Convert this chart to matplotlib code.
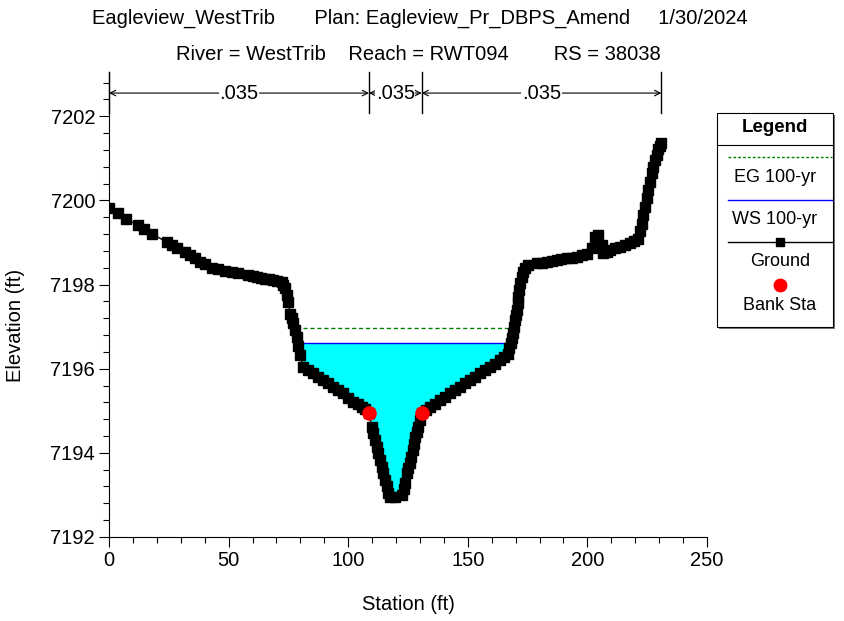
import matplotlib
matplotlib.use("Agg")
from matplotlib import pyplot as plt
from matplotlib.patches import Rectangle
from matplotlib.lines import Line2D
import numpy as np

plt.rcParams['font.family'] = ['Liberation Sans', 'DejaVu Sans']

# ground profile
station = [0, 3.9, 7.0, 12.3, 14.8, 17.8, 24.1, 26.2, 28.3, 31.8, 33.9, 36.0, 38.0, 40.1,
           42.9, 45.7, 48.5, 51.3, 54.1, 58.2, 60.0, 61.7, 63.5, 65.2, 67.0, 68.7, 70.1,
           72.2, 72.9, 73.6, 74.3, 75.0, 75.7, 76.3, 77.0, 77.7, 78.5, 79.1, 79.8, 81.2,
           83.3, 85.4, 87.5, 89.6, 91.7, 93.8, 95.9, 97.9, 100.0, 102.1, 104.0, 105.6,
           107.2, 108.7, 109.8, 110.5, 111.2, 111.9, 112.6, 113.3, 114.0, 114.7, 115.4,
           116.1, 116.8, 117.5, 119.6, 122.4, 123.2, 123.7, 124.5, 125.1, 125.8, 126.3,
           126.9, 127.4, 127.9, 128.6, 129.3, 130.0, 130.7, 132.4, 134.2, 136.3, 138.4,
           140.5, 142.6, 144.6, 146.7, 148.8, 150.9, 153.0, 155.1, 157.2, 159.3, 161.4,
           163.5, 165.2, 166.9, 167.4, 167.9, 168.3, 168.8, 169.3, 169.7, 170.0, 170.4,
           170.8, 171.1, 171.5, 171.8, 172.5, 173.2, 173.9, 175.3, 178.8, 181.0, 183.0,
           185.0, 187.2, 189.0, 191.3, 193.4, 195.5, 197.6, 199.7, 201.8, 203.2, 204.6,
           206.0, 206.7, 208.0, 209.4, 211.5, 213.6, 215.7, 217.8, 219.5, 221.3, 222.0,
           222.7, 223.4, 224.1, 224.8, 225.5, 226.2, 226.9, 227.6, 228.3, 229.0, 229.7,
           230.3, 230.9]
elev = [7199.81, 7199.69, 7199.55, 7199.41, 7199.31, 7199.21, 7199.01, 7198.94, 7198.86,
        7198.78, 7198.70, 7198.62, 7198.54, 7198.49, 7198.40, 7198.36, 7198.33, 7198.30,
        7198.28, 7198.22, 7198.20, 7198.18, 7198.16, 7198.14, 7198.12, 7198.10, 7198.09,
        7198.06, 7198.00, 7197.92, 7197.75, 7197.58, 7197.31, 7197.20, 7197.08, 7196.92,
        7196.76, 7196.55, 7196.32, 7196.05, 7195.97, 7195.89, 7195.81, 7195.73, 7195.65,
        7195.57, 7195.49, 7195.41, 7195.31, 7195.21, 7195.15, 7195.10, 7195.03, 7194.95,
        7194.62, 7194.46, 7194.30, 7194.15, 7193.99, 7193.83, 7193.67, 7193.51, 7193.35,
        7193.20, 7193.04, 7192.96, 7192.94, 7193.00, 7193.14, 7193.28, 7193.51, 7193.63,
        7193.75, 7193.91, 7194.07, 7194.22, 7194.38, 7194.50, 7194.62, 7194.78, 7194.95,
        7195.02, 7195.10, 7195.17, 7195.25, 7195.33, 7195.41, 7195.49, 7195.57, 7195.65,
        7195.73, 7195.81, 7195.89, 7195.97, 7196.05, 7196.12, 7196.20, 7196.28, 7196.36,
        7196.48, 7196.60, 7196.72, 7196.84, 7196.99, 7197.15, 7197.27, 7197.39, 7197.55,
        7197.71, 7197.87, 7198.03, 7198.18, 7198.30, 7198.40, 7198.46, 7198.51, 7198.52,
        7198.54, 7198.56, 7198.58, 7198.60, 7198.62, 7198.64, 7198.66, 7198.69, 7198.73,
        7198.86, 7199.14, 7199.17, 7198.94, 7198.74, 7198.78, 7198.82, 7198.86, 7198.90,
        7198.94, 7198.98, 7199.03, 7199.09, 7199.27, 7199.45, 7199.65, 7199.85, 7200.05,
        7200.24, 7200.44, 7200.64, 7200.80, 7200.95, 7201.09, 7201.23, 7201.30, 7201.37]

ws_elev = 7196.61
eg_elev = 7196.96
ws_sta = [79.0, 168.4]
eg_sta = [78.2, 168.9]
bank_sta = [108.7, 130.7]
bank_elev = [7194.95, 7194.95]
n_breaks = [0, 108.7, 130.7, 230.9]
n_vals = ['.035', '.035', '.035']

FS = 14.5
LFS = 13

fig = plt.figure(figsize=(8.45, 6.21), dpi=100)
ax = fig.add_axes([0.129, 0.1353, 0.7077, 0.7487])

st = np.array(station)
el = np.array(elev)
xs = np.linspace(ws_sta[0], ws_sta[1], 800)
gs = np.interp(xs, st, el)
ax.fill_between(xs, gs, ws_elev, where=gs < ws_elev, color='#00ffff', lw=0, interpolate=True)
ax.plot(ws_sta, [ws_elev, ws_elev], color='blue', lw=1)
ax.plot(eg_sta, [eg_elev, eg_elev], color='green', lw=1, ls=(0, (3, 2)))
ax.plot(station, elev, color='black', lw=1, marker='s', ms=6.5, mfc='black', mec='black')
ax.plot(bank_sta, bank_elev, 'o', color='red', ms=9.5, mec='red')

ax.set_xlim(0, 250)
ax.set_ylim(7192, 7203.05)
ax.set_xticks([0, 50, 100, 150, 200, 250])
ax.set_xticks(np.arange(0, 251, 10), minor=True)
ax.set_yticks([7192, 7194, 7196, 7198, 7200, 7202])
ax.set_yticks(np.arange(7192, 7203.01, 0.4), minor=True)
ax.tick_params(which='major', length=7, width=0.8, labelsize=FS, direction='out', pad=3)
ax.tick_params(which='minor', length=4, width=0.8, direction='out')
ax.spines['top'].set_visible(False)
ax.spines['right'].set_visible(False)
fig.text(408 / 845, 1 - 605 / 621, 'Station (ft)', ha='center', va='center', fontsize=FS)
fig.text(16 / 845, 1 - 325 / 621, 'Elevation (ft)', ha='center', va='center',
         rotation=90, fontsize=FS)

# Manning's n bar
for b in n_breaks:
    ax.plot([b, b], [7202.07, 7203.05], color='black', lw=1, clip_on=False)
for i, nv in enumerate(n_vals):
    x0, x1 = n_breaks[i], n_breaks[i + 1]
    ax.annotate('', xy=(x0, 7202.55), xytext=(x1, 7202.55),
                arrowprops=dict(arrowstyle='<->', lw=0.8, color='black',
                                shrinkA=0, shrinkB=0), annotation_clip=False)
    ax.text((x0 + x1) / 2, 7202.55, nv, ha='center', va='center', fontsize=FS,
            bbox=dict(facecolor='white', edgecolor='none', pad=0.5), clip_on=False)

fig.text(0.497, 1 - 18 / 621,
         'Eagleview_WestTrib       Plan: Eagleview_Pr_DBPS_Amend     1/30/2024',
         ha='center', va='center', fontsize=FS)
fig.text(0.495, 1 - 55 / 621, 'River = WestTrib    Reach = RWT094        RS = 38038',
         ha='center', va='center', fontsize=FS)

# legend box
W, H = 845.0, 621.0
def fx(p): return p / W
def fy(p): return 1 - p / H
fig.patches.append(Rectangle((fx(719), fy(329)), fx(116), 214 / H, transform=fig.transFigure,
                             facecolor='#777777', edgecolor='none', zorder=0))
fig.patches.append(Rectangle((fx(717), fy(327)), fx(116), 214 / H, transform=fig.transFigure,
                             facecolor='white', edgecolor='black', lw=0.8, zorder=1))
fig.lines.append(Line2D([fx(717), fx(833)], [fy(145), fy(145)], transform=fig.transFigure,
                        color='black', lw=0.8, zorder=2))
fig.text(fx(775), fy(128), 'Legend', ha='center', va='center', fontsize=LFS + 0.5,
         fontweight='bold')
fig.lines.append(Line2D([fx(728), fx(832)], [fy(157), fy(157)], transform=fig.transFigure,
                        color='green', lw=1, ls=(0, (2, 1.5)), zorder=2))
fig.text(fx(775), fy(178), 'EG 100-yr', ha='center', va='center', fontsize=LFS)
fig.lines.append(Line2D([fx(728), fx(832)], [fy(200), fy(200)], transform=fig.transFigure,
                        color='blue', lw=1, zorder=2))
fig.text(fx(775), fy(220), 'WS 100-yr', ha='center', va='center', fontsize=LFS)
fig.lines.append(Line2D([fx(728), fx(832)], [fy(242), fy(242)], transform=fig.transFigure,
                        color='black', lw=1, zorder=2))
fig.lines.append(Line2D([fx(780)], [fy(242)], transform=fig.transFigure, color='black',
                        marker='s', ms=5.5, zorder=3))
fig.text(fx(780), fy(262), 'Ground', ha='center', va='center', fontsize=LFS)
fig.lines.append(Line2D([fx(780)], [fy(285)], transform=fig.transFigure, color='red',
                        marker='o', ms=9, zorder=3))
fig.text(fx(780), fy(305), 'Bank Sta', ha='center', va='center', fontsize=LFS)

fig.savefig('out.png', dpi=100)
